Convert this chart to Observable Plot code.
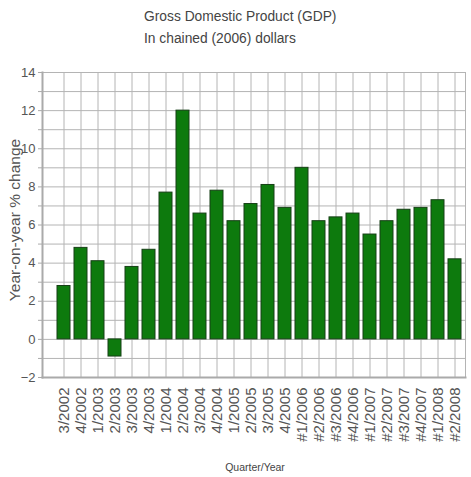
<!DOCTYPE html>
<html>
<head>
<meta charset="utf-8">
<script src="https://cdn.jsdelivr.net/npm/d3@7"></script>
<script src="https://cdn.jsdelivr.net/npm/@observablehq/plot@0.6"></script>
<style>
  html, body { margin: 0; padding: 0; background: #fff; }
  #wrap { position: relative; width: 471px; height: 477px; overflow: hidden; }
  #title { position: absolute; left: 144px; top: 5px; font-family: "Liberation Sans", Arial, sans-serif; font-size: 13.8px; color: #444; line-height: 20px; transform-origin: 0 0; transform: scaleY(1.12); white-space: nowrap; }
  #chart { position: absolute; left: 0; top: 50px; }
</style>
</head>
<body>
<div id="wrap">
  <div id="title">Gross Domestic Product (GDP)<br>In chained (2006) dollars</div>
  <div id="chart"></div>
</div>
<script>
const quarters = ["3/2002","4/2002","1/2003","2/2003","3/2003","4/2003","1/2004","2/2004","3/2004","4/2004","1/2005","2/2005","3/2005","4/2005","#1/2006","#2/2006","#3/2006","#4/2006","#1/2007","#2/2007","#3/2007","#4/2007","#1/2008","#2/2008"];
const values = [2.8, 4.8, 4.1, -0.9, 3.8, 4.7, 7.7, 12.0, 6.6, 7.8, 6.2, 7.1, 8.1, 6.9, 9.0, 6.2, 6.4, 6.6, 5.5, 6.2, 6.8, 6.9, 7.3, 4.2];
const yTicks = [-2, 0, 2, 4, 6, 8, 10, 12, 14];
const yMinor = [-1, 1, 3, 5, 7, 9, 11, 13];
const yTitle = "Year-on-year % change";
const xTitle = "Quarter/Year";

const data = quarters.map((q, i) => ({q, v: values[i]}));
const font = "'Liberation Sans', Arial, sans-serif";

const chart = Plot.plot({
  width: 471,
  height: 427,
  marginLeft: 42,
  marginRight: 6,
  marginTop: 22,
  marginBottom: 100,
  style: {fontFamily: font, background: "white", color: "#555"},
  x: {domain: quarters, paddingInner: 0.24, paddingOuter: 0.45, align: 0.8, label: null},
  y: {domain: [-2, 14], label: null},
  marks: [
    Plot.gridY([...yTicks, ...yMinor], {stroke: "#b4b4b4", strokeOpacity: 1}),
    Plot.gridX({stroke: "#b4b4b4", strokeOpacity: 1}),
    Plot.frame({anchor: "right", stroke: "#b4b4b4"}),
    Plot.barY(data, {x: "q", y: "v", fill: "#0d7a0d", stroke: "#163f16", strokeWidth: 1}),
    Plot.frame({anchor: "left", stroke: "#aaa", strokeWidth: 2}),
    Plot.frame({anchor: "bottom", stroke: "#aaa", strokeWidth: 2}),
    Plot.axisY(yTicks, {tickSize: 4, tickPadding: 3, fontSize: 13, stroke: "#aaa", fill: "#555", label: null}),
    Plot.axisY(yMinor, {tickSize: 4, text: null, stroke: "#aaa", label: null}),
    Plot.axisX({tickRotate: -90, tickSize: 0, tickPadding: 10, fontSize: 15, fill: "#555", label: null}),
    Plot.text([yTitle], {frameAnchor: "left", dx: -27, dy: -5, rotate: -90, textAnchor: "middle", fontSize: 15.5, fill: "#555"}),
    Plot.text([xTitle], {frameAnchor: "bottom", dy: 93, dx: 1, fontSize: 10.5, fill: "#444"})
  ]
});
document.getElementById("chart").appendChild(chart);
</script>
</body>
</html>
